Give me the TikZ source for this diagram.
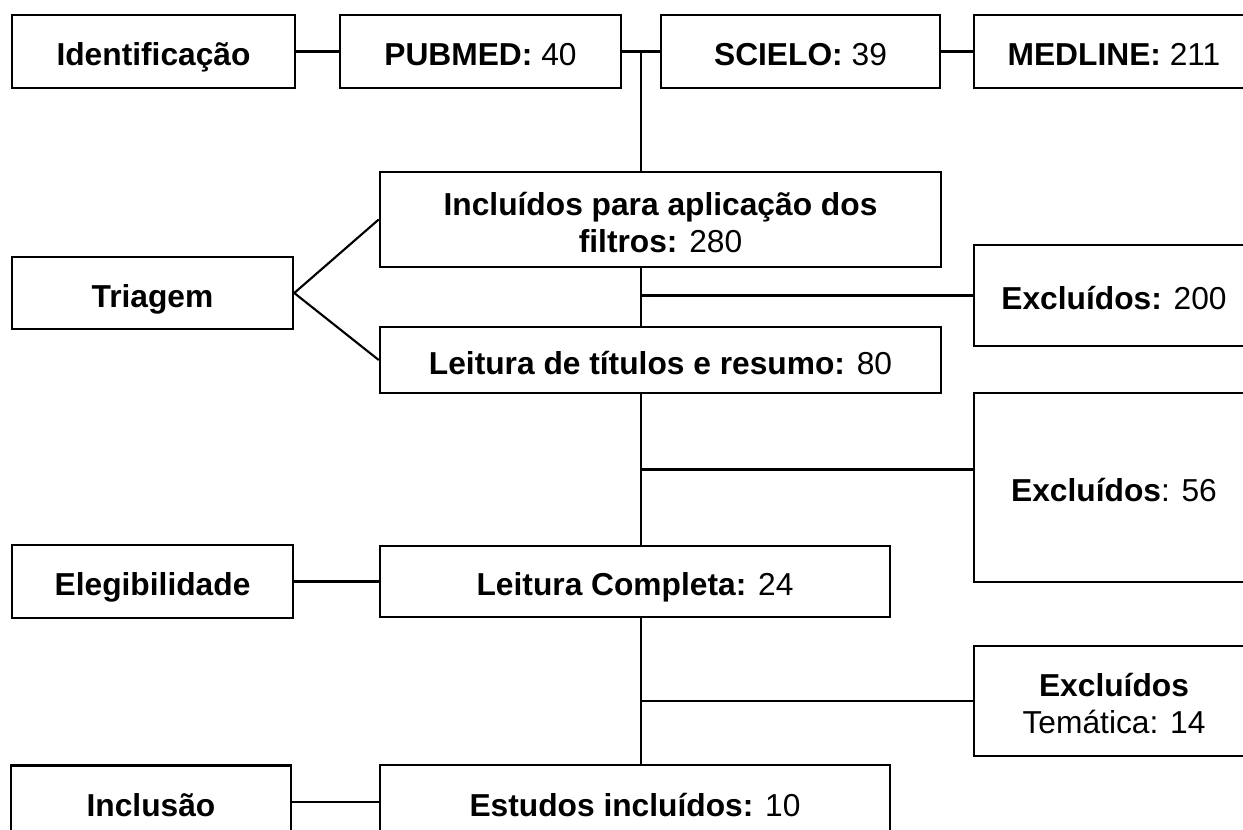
\documentclass[tikz,border=0pt]{standalone}
\usepackage{fontspec}
\setmainfont{Liberation Sans}
\usetikzlibrary{calc}

\newcommand{\boxline}[1]{\rule[-0.05em]{0pt}{1em}\smash{#1}}
\tikzset{
    box/.style={draw, line width=1.9pt, rectangle, inner sep=1pt, align=center,
        font=\fontsize{23.8}{27.5}\selectfont},
    link/.style={line width=1.6pt}
}

\begin{document}
\begin{tikzpicture}[x=0.75pt, y=-0.75pt]
            \useasboundingbox (0, 0) rectangle (1243, 829);
            \clip (0, 0) rectangle (1243, 829);
            % identificacao
            \node[box, minimum width=212.25pt, minimum height=54.75pt] (ident) at (153.5, 51.5) {\boxline{\textbf{Identificação}}};
            \node[box, minimum width=210.75pt, minimum height=54.75pt] (pubmed) at (480.5, 51.5) {\boxline{\textbf{PUBMED:} 40}};
            \node[box, minimum width=209.25pt, minimum height=54.75pt] (scielo) at (800.5, 51.5) {\boxline{\textbf{SCIELO:} 39}};
            \node[box, minimum width=210pt, minimum height=54.75pt] (medline) at (1114, 51.5) {\boxline{\textbf{MEDLINE:} 211}};
            % triagem
            \node[box, minimum width=420.75pt, minimum height=71.25pt] (filtros) at (660.5, 219.5) {\boxline{\textbf{Incluídos para aplicação dos}}\\\boxline{\textbf{filtros:} 280}};
            \node[box, minimum width=210.75pt, minimum height=54pt] (triagem) at (152.5, 293) {\boxline{\textbf{Triagem}}};
            \node[box, minimum width=210pt, minimum height=75.75pt] (excl1) at (1114, 295.5) {\boxline{\textbf{Excluídos:} 200}};
            \node[box, minimum width=420.75pt, minimum height=49.5pt] (titulos) at (660.5, 360) {\boxline{\textbf{Leitura de títulos e resumo:} 80}};
            \node[box, minimum width=210pt, minimum height=141.75pt] (excl2) at (1114, 487.5) {\boxline{\textbf{Excluídos}: 56}};
            % elegibilidade
            \node[box, minimum width=210.75pt, minimum height=54.75pt] (eleg) at (152.5, 581.5) {\boxline{\textbf{Elegibilidade}}};
            \node[box, minimum width=382.5pt, minimum height=53.25pt] (completa) at (635, 581.5) {\boxline{\textbf{Leitura Completa:} 24}};
            \node[box, minimum width=210pt, minimum height=82.5pt] (excl3) at (1114, 701) {\boxline{\textbf{Excluídos}}\\\boxline{Temática: 14}};
            % inclusao
            \node[box, minimum width=210pt, minimum height=54.75pt] (inclusao) at (151, 802) {\boxline{\textbf{Inclusão}}};
            \node[box, minimum width=382.5pt, minimum height=55.5pt] (estudos) at (635, 802) {\boxline{\textbf{Estudos incluídos:} 10}};

            \coordinate (j1) at ($(pubmed.east)!0.5!(scielo.west)$);
            \coordinate (c2) at ($(titulos.south)!0.5!(completa.north)$);
            \draw[link] (ident.east) -- (pubmed.west);
            \draw[link] (pubmed.east) -- (scielo.west);
            \draw[link] (scielo.east) -- (medline.west);
            \draw[link] (j1) -- (j1 |- filtros.north);
            \draw[link] (filtros.west) -- (triagem.east) -- (titulos.west);
            \draw[link] (j1 |- filtros.south) -- (j1 |- titulos.north);
            \draw[link] (j1 |- excl1.west) -- (excl1.west);
            \draw[link] (j1 |- titulos.south) -- (j1 |- completa.north);
            \draw[link] (j1 |- c2) -- (excl2.west |- c2);
            \draw[link] (eleg.east) -- (completa.west);
            \draw[link] (j1 |- completa.south) -- (j1 |- estudos.north);
            \draw[link] (j1 |- excl3.west) -- (excl3.west);
            \draw[link] (inclusao.east) -- (estudos.west);
        \end{tikzpicture}
\end{document}
